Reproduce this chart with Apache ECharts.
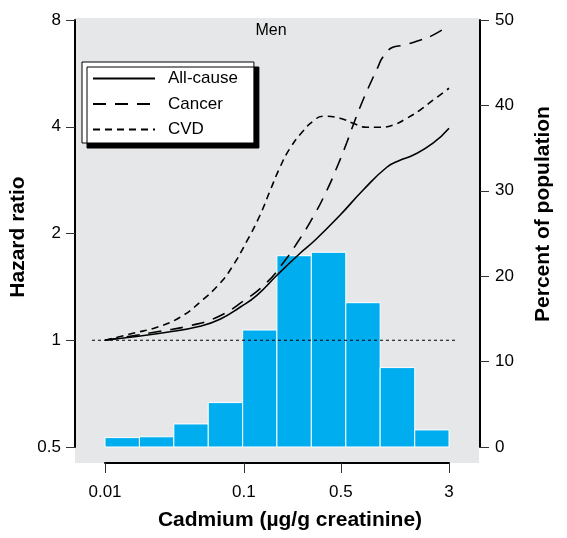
<!DOCTYPE html>
<html>
<head>
<meta charset="utf-8">
<script src="https://cdn.jsdelivr.net/npm/echarts@6/dist/echarts.min.js"></script>
<style>html,body{margin:0;padding:0;background:#fff}#c{width:567px;height:538px}</style>
</head>
<body>
<div id="c"></div>
<script>
// ---- data ----
const seriesNames = ['All-cause', 'Cancer', 'CVD'];
const allCauseCd = [0.01, 0.0151, 0.0279, 0.0483, 0.0673, 0.0938, 0.124, 0.173, 0.254, 0.325, 0.492, 0.720, 1.07, 1.33, 1.65, 2.30, 3.0];
const allCauseHR = [1.00, 1.02, 1.053, 1.095, 1.146, 1.239, 1.339, 1.525, 1.759, 1.914, 2.252, 2.648, 3.075, 3.218, 3.324, 3.594, 3.962];
const cancerCd = [0.01, 0.0151, 0.0249, 0.0409, 0.064, 0.0987, 0.1466, 0.191, 0.241, 0.3145, 0.396, 0.468, 0.552, 0.631, 0.720, 0.809, 0.923, 1.00, 1.18, 1.40, 1.85, 2.30, 3.0];
const cancerHR = [1.0, 1.026, 1.060, 1.099, 1.161, 1.288, 1.457, 1.649, 1.877, 2.223, 2.648, 3.075, 3.617, 4.173, 4.752, 5.27, 5.89, 6.28, 6.70, 6.79, 7.01, 7.25, 7.73];
const cvdCd = [0.01, 0.0159, 0.0237, 0.0347, 0.0483, 0.0673, 0.0820, 0.105, 0.1306, 0.154, 0.182, 0.215, 0.266, 0.3145, 0.371, 0.492, 0.610, 0.769, 0.955, 1.18, 1.49, 1.85, 2.30, 3.0];
const cvdHR = [1.0, 1.046, 1.088, 1.161, 1.280, 1.448, 1.606, 1.902, 2.252, 2.632, 3.075, 3.479, 3.885, 4.146, 4.282, 4.227, 4.093, 3.987, 3.987, 4.039, 4.227, 4.453, 4.752, 5.136];
const binEdges = [0.01, 0.0177, 0.0313, 0.0554, 0.098, 0.173, 0.306, 0.542, 0.958, 1.70, 3.0];
const binPercent = [1.1, 1.2, 2.7, 5.2, 13.7, 22.4, 22.8, 16.9, 9.3, 2.0];
const refLineCd = [0.01, 3];
const refLineHR = [1, 1];
const xTickLabels = [0.01, 0.1, 0.5, 3];
const hrTicks = [0.5, 1, 2, 4, 8];
const pctTicks = [0, 10, 20, 30, 40, 50];

// ---- build ----
const FONT = 'Liberation Sans, Arial, sans-serif';
const TICK_SIZE = 17;
const TITLE_FONT = 'bold 21px ' + FONT;
const zip = (a, b) => a.map((v, i) => [v, b[i]]);
const histData = binPercent.map((p, i) => [binEdges[i], binEdges[i + 1], p]);
const REF_OVERHANG_LEFT = 13, REF_OVERHANG_RIGHT = 9; // style: reference line runs a little past the data range

const chart = echarts.init(document.getElementById('c'), null, { renderer: 'canvas' });
const lineBase = { type: 'line', xAxisIndex: 0, yAxisIndex: 0, symbol: 'none', smooth: 0.5, z: 5,
  itemStyle: { color: '#000' } };

chart.setOption({
  animation: false,
  backgroundColor: '#ffffff',
  textStyle: { fontFamily: FONT },
  grid: { left: 105, right: 118, top: 20, bottom: 91, containLabel: false, outerBoundsMode: 'none' },
  graphic: [
    { type: 'rect', z: -100, shape: { x: 75, y: 18, width: 404, height: 445 }, style: { fill: '#e6e7e8' } },
    { type: 'text', x: 271, y: 31, z: 10, style: { text: 'Men', font: '16px ' + FONT, fill: '#000', textAlign: 'center', textVerticalAlign: 'middle' } },
    { type: 'text', x: 18, y: 237, rotation: Math.PI / 2, style: { text: 'Hazard ratio', font: TITLE_FONT, fill: '#000', textAlign: 'center', textVerticalAlign: 'middle' } },
    { type: 'text', x: 543, y: 214, rotation: Math.PI / 2, style: { text: 'Percent of population', font: TITLE_FONT, fill: '#000', textAlign: 'center', textVerticalAlign: 'middle' } },
    { type: 'text', x: 290, y: 520, style: { text: 'Cadmium (µg/g creatinine)', font: TITLE_FONT, fill: '#000', textAlign: 'center', textVerticalAlign: 'middle' } }
  ],
  legend: {
    data: seriesNames,
    orient: 'vertical',
    left: 82, top: 62,
    padding: [8, 16, 5, 10],
    itemWidth: 62, itemHeight: 14, itemGap: 8.5,
    backgroundColor: '#ffffff',
    borderColor: '#000', borderWidth: 1,
    shadowColor: '#000', shadowBlur: 0, shadowOffsetX: 5, shadowOffsetY: 5,
    itemStyle: { opacity: 0 },
    textStyle: { fontSize: 17, color: '#000', fontFamily: FONT, padding: [0, 0, 0, 8] },
    selectedMode: false
  },
  xAxis: [
    {
      type: 'log', logBase: 10, min: xTickLabels[0], max: xTickLabels[xTickLabels.length - 1],
      position: 'bottom', offset: 16,
      axisLine: { show: true, onZero: false, lineStyle: { color: '#000', width: 2 } },
      axisTick: { show: false }, axisLabel: { show: false }, splitLine: { show: false }
    },
    {
      type: 'value', min: Math.log10(xTickLabels[0]), max: Math.log10(xTickLabels[xTickLabels.length - 1]),
      position: 'bottom', offset: 16,
      axisLine: { show: false, onZero: false },
      axisTick: { show: true, length: 10, lineStyle: { color: '#333', width: 1 }, customValues: xTickLabels.map(v => Math.log10(v)) },
      axisLabel: { show: true, margin: 21, fontSize: TICK_SIZE, color: '#000', fontFamily: FONT,
        customValues: xTickLabels.map(v => Math.log10(v)),
        formatter: v => String(parseFloat(Math.pow(10, v).toPrecision(3))) },
      splitLine: { show: false }
    }
  ],
  yAxis: [
    {
      type: 'log', logBase: 2, min: hrTicks[0], max: hrTicks[hrTicks.length - 1],
      position: 'left', offset: 30,
      axisLine: { show: true, onZero: false, lineStyle: { color: '#000', width: 2 } },
      axisTick: { show: true, length: 9, lineStyle: { color: '#333', width: 1 } },
      axisLabel: { margin: 14, fontSize: TICK_SIZE, color: '#000', fontFamily: FONT },
      splitLine: { show: false }
    },
    {
      type: 'value', min: pctTicks[0], max: pctTicks[pctTicks.length - 1], interval: 10,
      position: 'right', offset: 31,
      axisLine: { show: true, onZero: false, lineStyle: { color: '#000', width: 2 } },
      axisTick: { show: true, length: 9, lineStyle: { color: '#333', width: 1 } },
      axisLabel: { margin: 15, fontSize: TICK_SIZE, color: '#000', fontFamily: FONT },
      splitLine: { show: false }
    }
  ],
  series: [
    {
      type: 'custom', name: 'Percent', xAxisIndex: 0, yAxisIndex: 1, z: 2,
      encode: { x: [0, 1], y: 2 },
      data: histData,
      renderItem: (params, api) => {
        const p1 = api.coord([api.value(0), api.value(2)]);
        const p0 = api.coord([api.value(1), 0]);
        return { type: 'rect', shape: { x: p1[0], y: p1[1], width: p0[0] - p1[0], height: p0[1] - p1[1] },
          style: { fill: '#00aeef', stroke: '#ffffff', lineWidth: 1 } };
      }
    },
    {
      type: 'custom', name: 'Reference', xAxisIndex: 0, yAxisIndex: 0, z: 4, clip: false,
      encode: { x: [0, 2], y: [1, 3] },
      data: [[refLineCd[0], refLineHR[0], refLineCd[1], refLineHR[1]]],
      renderItem: (params, api) => {
        const a = api.coord([api.value(0), api.value(1)]);
        const b = api.coord([api.value(2), api.value(3)]);
        return { type: 'line', shape: { x1: a[0] - REF_OVERHANG_LEFT, y1: a[1], x2: b[0] + REF_OVERHANG_RIGHT, y2: b[1] },
          style: { stroke: '#000', lineWidth: 1, lineDash: [3, 3] } };
      }
    },
    Object.assign({}, lineBase, { name: seriesNames[0], data: zip(allCauseCd, allCauseHR), lineStyle: { color: '#000', width: 1.6, type: 'solid' } }),
    Object.assign({}, lineBase, { name: seriesNames[1], data: zip(cancerCd, cancerHR), lineStyle: { color: '#000', width: 1.6, type: [13, 9] } }),
    Object.assign({}, lineBase, { name: seriesNames[2], data: zip(cvdCd, cvdHR), lineStyle: { color: '#000', width: 1.6, type: [7, 5] } })
  ]
});
</script>
</body>
</html>
